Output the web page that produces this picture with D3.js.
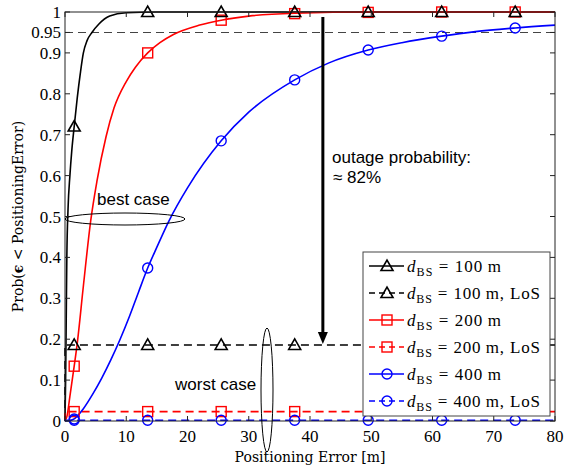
<!DOCTYPE html>
<html lang="en">
<head>
<meta charset="utf-8">
<title>Positioning error CDF</title>
<script src="https://d3js.org/d3.v7.min.js"></script>
<style>
  body { margin: 0; background: #fff; }
  svg { display: block; background: #fff; }
  .tick-label { font-family: "Liberation Serif", "Times New Roman", serif; font-size: 17px; fill: #000; }
  .axis-title { font-family: "DejaVu Serif", serif; font-size: 14px; fill: #000; }
  .note { font-family: "Liberation Sans", Arial, sans-serif; font-size: 17px; fill: #000; }
  .leg { font-family: "Liberation Serif", serif; font-size: 17px; fill: #000; }
</style>
</head>
<body>
<svg id="chart" width="564" height="466"></svg>
<script>
// ---- data ----
var xTicks = [0, 10, 20, 30, 40, 50, 60, 70, 80]
var yTicks = [0, 0.1, 0.2, 0.3, 0.4, 0.5, 0.6, 0.7, 0.8, 0.9, 0.95, 1]

// curve samples (x = positioning error in m, y = probability)
var x100 = [0, 0.1, 0.2, 0.3, 0.5, 0.8, 1.1, 1.5, 2, 2.5, 3, 3.6, 4.4, 5.5, 7.3, 10, 15, 80]
var y100 = [0, 0.1, 0.25, 0.4, 0.52, 0.6, 0.66, 0.72, 0.79, 0.85, 0.9, 0.93, 0.95, 0.97, 0.99, 0.998, 1, 1]
var x200 = [0, 0.3, 0.8, 1.5, 2, 3, 4.2, 5.2, 6.7, 8, 10, 11.5, 13.5, 15.5, 17.7, 22, 25.5, 30, 37.5, 50, 80]
var y200 = [0, 0.01, 0.06, 0.134, 0.19, 0.33, 0.49, 0.585, 0.695, 0.765, 0.83, 0.865, 0.9, 0.925, 0.945, 0.968, 0.98, 0.99, 0.997, 1, 1]
var x400 = [0, 1, 1.5, 2, 3, 4.5, 6, 7.5, 9, 10.5, 12, 13.5, 15, 17, 20, 25.5, 30, 37.5, 43, 49.5, 55, 61.5, 67, 73.5, 80]
var y400 = [0, 0.002, 0.005, 0.012, 0.03, 0.065, 0.105, 0.15, 0.2, 0.255, 0.315, 0.374, 0.425, 0.49, 0.57, 0.685, 0.755, 0.834, 0.875, 0.907, 0.925, 0.941, 0.952, 0.961, 0.968]

// LoS curves (flat after the jump at 0)
var xLoS = [0, 0, 80]
var yLoS100 = [0, 0.186, 0.186]
var yLoS200 = [0, 0.023, 0.023]
var yLoS400 = [0, 0.002, 0.002]

// marker positions
var markX = [1.5, 13.5, 25.5, 37.5, 49.5, 61.5, 73.5]
var mark100 = [0.72, 1, 1, 1, 1, 1, 1]
var mark200 = [0.134, 0.9, 0.98, 0.996, 0.999, 1, 1]
var mark400 = [0.005, 0.374, 0.685, 0.834, 0.907, 0.941, 0.961]
var markLoS100 = [0.186, 0.186, 0.186, 0.186, 0.186, 0.186, 0.186]
var markLoS200 = [0.023, 0.023, 0.023, 0.023, 0.023, 0.023, 0.023]
var markLoS400 = [0.002, 0.002, 0.002, 0.002, 0.002, 0.002, 0.002]

var target = 0.95
var arrowX = 42.1, arrowTop = 0.988, arrowBottom = 0.186

var legendDist = ["100", "100", "200", "200", "400", "400"]
var legendLoS = [false, true, false, true, false, true]

// ---- layout ----
var W = 564, H = 466
var margin = {top: 12, right: 9, bottom: 45, left: 65}
var svg = d3.select("#chart")

var x = d3.scaleLinear().domain([0, 80]).range([margin.left, W - margin.right])
var y = d3.scaleLinear().domain([0, 1]).range([H - margin.bottom, margin.top])

var zip = (xs, ys) => xs.map((v, i) => [v, ys[i]])
var line = d3.line().x(d => x(d[0])).y(d => y(d[1])).curve(d3.curveMonotoneX)
var straight = d3.line().x(d => x(d[0])).y(d => y(d[1]))

var series = [
  {color: "#000", pts: zip(x100, y100), marks: mark100, dash: null, mk: "tri", smooth: true},
  {color: "#000", pts: zip(xLoS, yLoS100), marks: markLoS100, dash: "8,5", mk: "tri", smooth: false, nMarks: 4},
  {color: "#f00", pts: zip(x200, y200), marks: mark200, dash: null, mk: "sq", smooth: true},
  {color: "#f00", pts: zip(xLoS, yLoS200), marks: markLoS200, dash: "8,5", mk: "sq", smooth: false, nMarks: 4},
  {color: "#00f", pts: zip(x400, y400), marks: mark400, dash: null, mk: "circ", smooth: true},
  {color: "#00f", pts: zip(xLoS, yLoS400), marks: markLoS400, dash: "8,5", mk: "circ", smooth: false}
]

function drawMarker(g, type, cx, cy, color) {
  if (type == "tri") {
    g.append("path")
      .attr("d", `M${cx - 6},${cy + 4.5}L${cx + 6},${cy + 4.5}L${cx},${cy - 6}Z`)
      .attr("fill", "none").attr("stroke", color).attr("stroke-width", 1.6)
  } else if (type == "sq") {
    g.append("rect").attr("x", cx - 5).attr("y", cy - 5).attr("width", 10).attr("height", 10)
      .attr("fill", "none").attr("stroke", color).attr("stroke-width", 1.4)
  } else {
    g.append("circle").attr("cx", cx).attr("cy", cy).attr("r", 5)
      .attr("fill", "none").attr("stroke", color).attr("stroke-width", 1.4)
  }
}

// target line at 0.95
svg.append("line")
  .attr("x1", x(0)).attr("x2", x(80)).attr("y1", y(target)).attr("y2", y(target))
  .attr("stroke", "#444").attr("stroke-width", 1.1).attr("stroke-dasharray", "8,5")

// curves
var plot = svg.append("g")
series.forEach(s => {
  plot.append("path")
    .attr("d", (s.smooth ? line : straight)(s.pts))
    .attr("fill", "none").attr("stroke", s.color).attr("stroke-width", 1.6)
    .attr("stroke-dasharray", s.dash)
})

// markers (red, blue, then black on top)
var markG = svg.append("g");
[2, 3, 4, 5, 0, 1].forEach(k => {
  var s = series[k]
  var n = s.nMarks || markX.length
  for (var i = 0; i < n; i++) drawMarker(markG, s.mk, x(markX[i]), y(s.marks[i]), s.color)
})

// frame and ticks (inside, all four sides)
var axG = svg.append("g")
axG.append("rect")
  .attr("x", x(0)).attr("y", y(1)).attr("width", x(80) - x(0)).attr("height", y(0) - y(1))
  .attr("fill", "none").attr("stroke", "#222").attr("stroke-width", 1)
xTicks.forEach(t => {
  axG.append("line").attr("x1", x(t)).attr("x2", x(t)).attr("y1", y(0)).attr("y2", y(0) - 5).attr("stroke", "#222")
  axG.append("line").attr("x1", x(t)).attr("x2", x(t)).attr("y1", y(1)).attr("y2", y(1) + 5).attr("stroke", "#222")
  axG.append("text").attr("class", "tick-label").attr("x", x(t)).attr("y", y(0) + 21)
    .attr("text-anchor", "middle").text(t)
})
yTicks.forEach(t => {
  axG.append("line").attr("x1", x(0)).attr("x2", x(0) + 5).attr("y1", y(t)).attr("y2", y(t)).attr("stroke", "#222")
  axG.append("line").attr("x1", x(80)).attr("x2", x(80) - 5).attr("y1", y(t)).attr("y2", y(t)).attr("stroke", "#222")
  axG.append("text").attr("class", "tick-label").attr("x", x(0) - 4).attr("y", y(t) + 6)
    .attr("text-anchor", "end").text(t)
})

// axis labels
svg.append("text").attr("class", "axis-title")
  .attr("x", (x(0) + x(80)) / 2).attr("y", H - 4).attr("text-anchor", "middle")
  .text("Positioning Error [m]")
var yl = svg.append("text").attr("class", "axis-title")
  .attr("transform", `translate(23,${(y(0) + y(1)) / 2}) rotate(-90)`).attr("text-anchor", "middle")
yl.append("tspan").text("Prob(")
yl.append("tspan").style("font-weight", "bold").text("\u03F5")
yl.append("tspan").text(" < PositioningError)")

// outage arrow
svg.append("line")
  .attr("x1", x(arrowX)).attr("x2", x(arrowX)).attr("y1", y(arrowTop)).attr("y2", y(arrowBottom) - 10)
  .attr("stroke", "#000").attr("stroke-width", 3)
svg.append("path")
  .attr("d", `M${x(arrowX) - 5},${y(arrowBottom) - 13}L${x(arrowX) + 5},${y(arrowBottom) - 13}L${x(arrowX)},${y(arrowBottom) - 1}Z`)
  .attr("fill", "#000")

svg.append("text").attr("class", "note").attr("x", 332).attr("y", 163).text("outage probability:")
svg.append("text").attr("class", "note").attr("x", 333).attr("y", 183).text("\u2248 82%")

// best / worst case callouts
svg.append("ellipse").attr("cx", 125).attr("cy", 219).attr("rx", 60).attr("ry", 6)
  .attr("fill", "none").attr("stroke", "#000").attr("stroke-width", 1)
svg.append("text").attr("class", "note").attr("x", 97).attr("y", 205).text("best case")
svg.append("ellipse").attr("cx", 267).attr("cy", 390).attr("rx", 6).attr("ry", 62)
  .attr("fill", "none").attr("stroke", "#000").attr("stroke-width", 1)
svg.append("text").attr("class", "note").attr("x", 175).attr("y", 390).text("worst case")

// legend
var lg = svg.append("g")
lg.append("rect").attr("x", 363).attr("y", 252).attr("width", 187).attr("height", 164)
  .attr("fill", "#fff").attr("stroke", "#444").attr("stroke-width", 1)
series.forEach((s, i) => {
  var cy = 266 + i * 27
  lg.append("line").attr("x1", 369).attr("x2", 404).attr("y1", cy).attr("y2", cy)
    .attr("stroke", s.color).attr("stroke-width", 1.6).attr("stroke-dasharray", s.dash ? "6,4" : null)
  drawMarker(lg, s.mk, 387, cy, s.color)
  var t = lg.append("text").attr("class", "leg").attr("x", 407).attr("y", cy + 6)
    .attr("textLength", legendLoS[i] ? 133 : 94).attr("lengthAdjust", "spacing")
  t.append("tspan").style("font-style", "italic").text("d")
  t.append("tspan").attr("dy", 4).style("font-size", "12px").text("BS")
  t.append("tspan").attr("dy", -4).text(" = " + legendDist[i] + "\u2009m" + (legendLoS[i] ? ", LoS" : ""))
})
</script>
</body>
</html>
